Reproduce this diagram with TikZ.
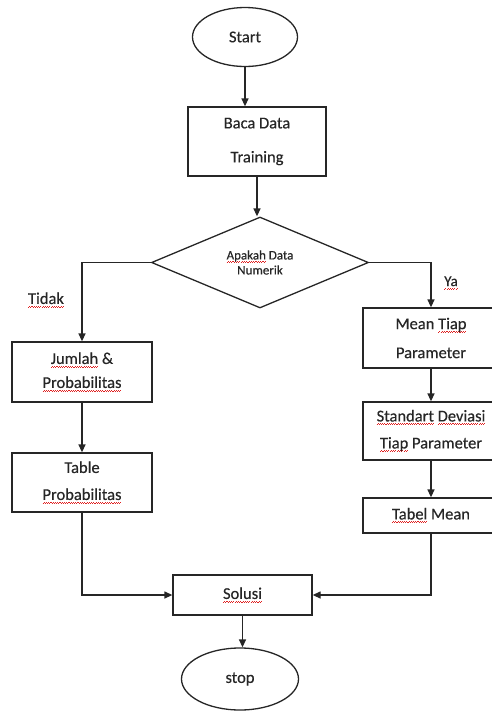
\documentclass[tikz,border=0pt]{standalone}
\usepackage{fontspec}
\setmainfont{Carlito}[FakeBold=0.35]
\usetikzlibrary{shapes.geometric,arrows.meta}
\definecolor{ink}{HTML}{262626}
\definecolor{squig}{HTML}{E02020}
\newcommand\sqw[1]{\setbox0\hbox{#1}\rlap{\textcolor{squig}{\hbox to \wd0{\xleaders\hbox{\rule[-3.6pt]{1.1pt}{0.7pt}\rule[-2.6pt]{1.1pt}{0.7pt}}\hfil}}}\box0\relax}
\tikzset{
  box/.style={draw=ink, line width=1.3pt, rectangle, inner sep=0pt, align=center, text=ink},
  oval/.style={draw=ink, line width=1.3pt, ellipse, inner sep=0pt, text=ink},
  decis/.style={draw=ink, line width=1.3pt, diamond, inner sep=0pt, align=center, text=ink},
  arr/.style={draw=ink, line width=1.3pt, -{Triangle[length=8pt,width=7pt]}},
  lbl/.style={text=ink, inner sep=0pt},
  fbig/.style={font=\fontsize{16.5}{20}\selectfont}
}
\begin{document}
\begin{tikzpicture}[x=1pt,y=-1pt]
\useasboundingbox (0,0) rectangle (492,713);
\clip (0,0) rectangle (492,713);
\node[oval, fbig, minimum width=105pt, minimum height=59pt] (start) at (245,37) {Start};
\node[box, minimum width=138pt, minimum height=69pt, font=\fontsize{16.5}{34}\selectfont] (baca) at (257,141.5) {Baca Data\\Training};
\node[decis, minimum width=217pt, minimum height=91pt, font=\fontsize{13}{15}\selectfont] (dec) at (260,262.5) {\sqw{Apakah} Data\\Numerik};
\node[box, minimum width=140pt, minimum height=60pt, font=\fontsize{16.5}{24}\selectfont] (jumlah) at (82,372) {\sqw{Jumlah} \&\\\sqw{Probabilitas}};
\node[box, minimum width=140pt, minimum height=59pt, font=\fontsize{16.5}{27}\selectfont] (tablep) at (82,482.5) {Table\\\sqw{Probabilitas}};
\node[box, minimum width=136pt, minimum height=60pt, font=\fontsize{16.5}{29}\selectfont] (mean) at (431,338) {Mean \sqw{Tiap}\\Parameter};
\node[box, minimum width=136pt, minimum height=58pt, font=\fontsize{16.5}{27}\selectfont] (std) at (431,431) {\sqw{Standart} \sqw{Deviasi}\\\sqw{Tiap} Parameter};
\node[box, fbig, minimum width=136pt, minimum height=35pt] (tabel) at (431,515.5) {\sqw{Tabel} Mean};
\node[box, fbig, minimum width=139pt, minimum height=40pt] (solusi) at (242.5,595) {\sqw{Solusi}};
\node[oval, fbig, minimum width=117pt, minimum height=62pt] (stop) at (240,679) {stop};
\node[lbl, fbig] (tidak) at (46,300) {\sqw{Tidak}};
\node[lbl, font=\fontsize{15}{18}\selectfont] (ya) at (451,283) {\sqw{Ya}};
\draw[arr] (start.south) -- (start.south |- baca.north);
\draw[arr] (baca.south) -- (baca.south |- dec.north);
\draw[arr] (dec.west) -| (jumlah.north);
\draw[arr] (dec.east) -| (mean.north);
\draw[arr] (jumlah.south) -- (tablep.north);
\draw[arr] (mean.south) -- (std.north);
\draw[arr] (std.south) -- (tabel.north);
\draw[arr] (tablep.south) |- (solusi.west);
\draw[arr] (tabel.south) |- (solusi.east);
\draw[arr] (solusi.south) -- (solusi.south |- stop.north);
\end{tikzpicture}
\end{document}
